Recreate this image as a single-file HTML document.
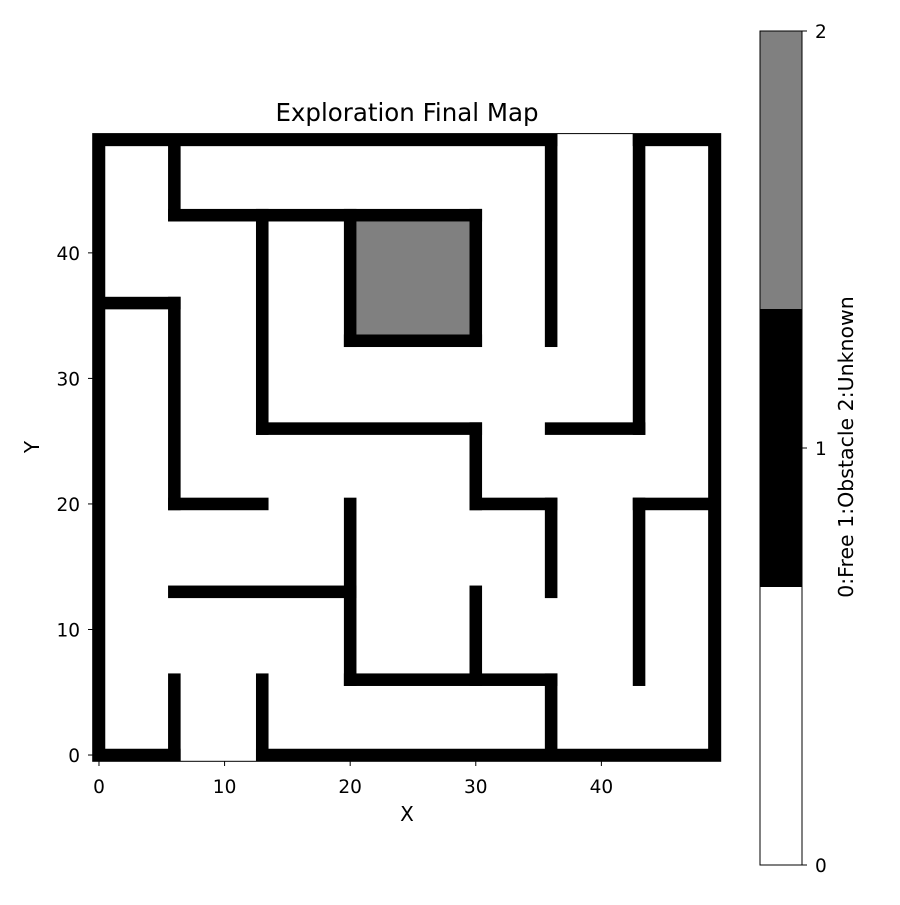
<!DOCTYPE html>
<html><head><meta charset="utf-8"><style>
body{margin:0;background:#fff}
text{font-family:"DejaVu Sans","Liberation Sans",sans-serif;fill:#000}
</style></head><body>
<svg id="s" width="900" height="900" xmlns="http://www.w3.org/2000/svg">
<rect width="900" height="900" fill="#fff"/>
<g id="cells"></g>
<rect x="92.7" y="133.6" width="628" height="627.7" fill="none" stroke="#000" stroke-width="1"/>
<text x="407" y="121" style="font-size:24.5px" text-anchor="middle">Exploration Final Map</text>
<g id="axes"></g>
<text x="407" y="821" style="font-size:20px" text-anchor="middle">X</text>
<text x="39" y="447" style="font-size:20px" text-anchor="middle" transform="rotate(-90 39 447)">Y</text>
<g id="cbar"></g>
<text x="853" y="447" style="font-size:20.5px" text-anchor="middle" transform="rotate(-90 853 447)">0:Free 1:Obstacle 2:Unknown</text>
</svg>
<script>
const walls=[[0,0,0,49],[49,0,49,49],[0,0,6,0],[13,0,49,0],[0,49,36,49],[43,49,49,49],
[6,43,6,49],[6,43,30,43],[13,26,13,43],[13,26,30,26],[30,20,30,26],[30,20,36,20],[36,13,36,20],
[20,33,20,43],[20,33,30,33],[30,33,30,43],[36,33,36,49],[43,26,43,49],[36,26,43,26],
[0,36,6,36],[6,20,6,36],[6,20,13,20],[43,20,49,20],[43,6,43,20],[20,6,20,20],[6,13,20,13],
[20,6,36,6],[36,0,36,6],[30,6,30,13],[6,0,6,6],[13,0,13,6]];
const unknown=[[21,34,29,42]];
const xTicks=[0,10,20,30,40], yTicks=[0,10,20,30,40];
const cbTicks=[0,1,2];
const NS="http://www.w3.org/2000/svg";
const X=v=>92.7+(v+0.5)*12.56, Y=v=>761.3-(v+0.5)*12.554;
function mk(t,a,p){const e=document.createElementNS(NS,t);for(const k in a)e.setAttribute(k,a[k]);p.appendChild(e);return e;}
const cg=document.getElementById('cells');
unknown.forEach(u=>{const r=mk('rect',{x:X(u[0]-0.5),y:Y(u[3]+0.5),width:X(u[2]+0.5)-X(u[0]-0.5),height:Y(u[1]-0.5)-Y(u[3]+0.5),fill:'#808080'},cg);

});
walls.forEach(w=>{const r=mk('rect',{x:X(w[0]-0.5),y:Y(w[3]+0.5),width:X(w[2]+0.5)-X(w[0]-0.5),height:Y(w[1]-0.5)-Y(w[3]+0.5),fill:'#000'},cg);

});
const ag=document.getElementById('axes');
xTicks.forEach(t=>{mk('line',{x1:X(t),x2:X(t),y1:761.3,y2:766,stroke:'#000'},ag);
const tx=mk('text',{x:X(t),y:793,style:'font-size:18.5px','text-anchor':'middle'},ag);tx.textContent=t;

});
yTicks.forEach(t=>{mk('line',{x1:88,x2:92.7,y1:Y(t),y2:Y(t),stroke:'#000'},ag);
const tx=mk('text',{x:80,y:Y(t)+7,style:'font-size:18.5px','text-anchor':'end'},ag);tx.textContent=t;

});
const cb=document.getElementById('cbar');
const CY=v=>865-v*417;
[['#fff',0,2/3],['#000',2/3,4/3],['#808080',4/3,2]].forEach(c=>{const r=mk('rect',{x:760,y:CY(c[2]),width:42,height:CY(c[1])-CY(c[2]),fill:c[0]},cb);

});
mk('rect',{x:760,y:31,width:42,height:834,fill:'none',stroke:'#000'},cb);
cbTicks.forEach(t=>{mk('line',{x1:802,x2:807,y1:CY(t),y2:CY(t),stroke:'#000'},cb);
const tx=mk('text',{x:815,y:CY(t)+7,style:'font-size:18.5px'},cb);tx.textContent=t;

});
</script>
</body></html>
